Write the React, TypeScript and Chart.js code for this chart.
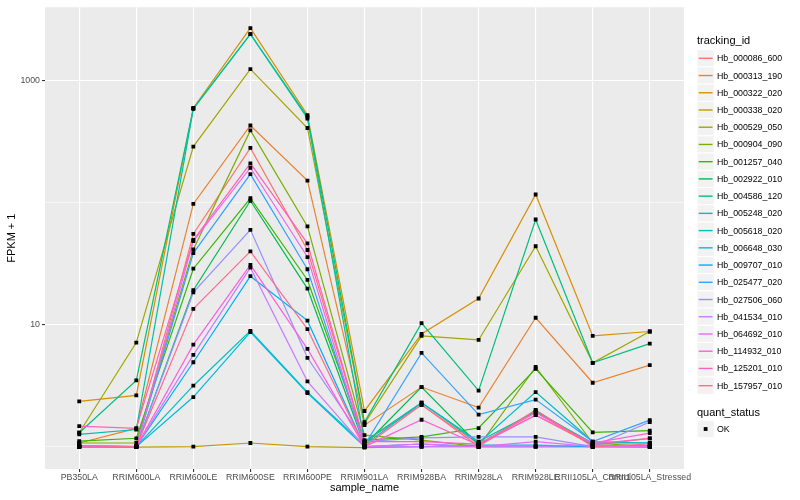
import React, { useEffect, useRef } from "react";
import { Chart, registerables } from "chart.js";

Chart.register(...registerables);

const categories = [
  "PB350LA", "RRIM600LA", "RRIM600LE", "RRIM600SE", "RRIM600PE", "RRIM901LA",
  "RRIM928BA", "RRIM928LA", "RRIM928LE", "RRII105LA_Control", "RRII105LA_Stressed",
];

const trackingIds = [
  "Hb_000086_600", "Hb_000313_190", "Hb_000322_020", "Hb_000338_020", "Hb_000529_050",
  "Hb_000904_090", "Hb_001257_040", "Hb_002922_010", "Hb_004586_120", "Hb_005248_020",
  "Hb_005618_020", "Hb_006648_030", "Hb_009707_010", "Hb_025477_020", "Hb_027506_060",
  "Hb_041534_010", "Hb_064692_010", "Hb_114932_010", "Hb_125201_010", "Hb_157957_010",
];

const seriesColors = [
  "#F8766D", "#EA8331", "#D89000", "#C09B00", "#A3A500", "#7CAE00", "#39B600", "#00BB4E",
  "#00BF7D", "#00C1A3", "#00BFC4", "#00BAE0", "#00B0F6", "#35A2FF", "#9590FF", "#C77CFF",
  "#E76BF3", "#FA62DB", "#FF62BC", "#FF6C91",
];

// FPKM + 1 values per sample (same order as categories)
const hb_000086_600 = [1.02, 1.0, 55.6, 282, 41, 1.1, 2.2, 1.05, 1.81, 1.03, 1.17];
const hb_000313_190 = [1.07, 1.41, 98, 431, 152, 1.5, 3.08, 2.09, 11.4, 3.34, 4.66];
const hb_000322_020 = [2.35, 2.63, 600, 2710, 525, 1.96, 8.4, 16.4, 117, 8.1, 8.8];
const hb_000338_020 = [1.0, 0.99, 1.0, 1.07, 1.0, 0.98, 1.0, 1.0, 1.0, 1.0, 1.0];
const hb_000529_050 = [1.3, 7.13, 289, 1250, 411, 1.55, 8.1, 7.5, 44, 4.87, 8.8];
const hb_000904_090 = [1.07, 1.07, 41.5, 393, 64, 1.24, 1.13, 1.0, 4.5, 1.07, 1.0];
const hb_001257_040 = [1.11, 1.17, 28.8, 109, 23.3, 1.13, 1.2, 1.42, 4.35, 1.31, 1.35];
const hb_002922_010 = [1.0, 1.0, 19.2, 104, 19.8, 1.03, 3.08, 1.03, 1.98, 1.03, 1.0];
const hb_004586_120 = [1.3, 3.49, 595, 2420, 508, 1.59, 10.3, 2.88, 73, 4.87, 7.0];
const hb_005248_020 = [1.26, 1.38, 590, 2420, 492, 1.1, 2.29, 1.1, 1.93, 1.07, 1.07];
const hb_005618_020 = [1.0, 1.0, 3.16, 8.9, 2.8, 1.03, 2.29, 1.07, 2.8, 1.1, 1.07];
const hb_006648_030 = [1.0, 1.0, 2.55, 8.7, 2.75, 1.0, 1.0, 1.03, 1.03, 1.0, 1.02];
const hb_009707_010 = [1.0, 1.0, 4.92, 25, 10.8, 1.0, 1.05, 1.0, 1.0, 1.0, 0.99];
const hb_025477_020 = [1.0, 1.0, 38.7, 172, 28.5, 1.03, 5.87, 1.83, 2.43, 1.1, 1.65];
const hb_027506_060 = [1.0, 1.0, 18.4, 60, 5.35, 1.1, 1.18, 1.2, 1.2, 1.0, 1.59];
const hb_041534_010 = [1.0, 1.0, 5.66, 29.4, 3.43, 1.0, 1.0, 1.0, 1.0, 1.03, 1.0];
const hb_064692_010 = [1.0, 1.0, 48.5, 194, 35.9, 1.0, 1.05, 1.0, 1.1, 1.0, 1.0];
const hb_114932_010 = [1.02, 1.0, 6.87, 31, 6.34, 1.0, 1.66, 1.03, 1.81, 1.07, 1.29];
const hb_125201_010 = [1.47, 1.41, 49.6, 211, 46.5, 1.1, 1.1, 1.05, 1.9, 1.05, 1.17];
const hb_157957_010 = [1.02, 1.0, 13.5, 40, 9.2, 1.0, 2.2, 1.0, 2.0, 1.0, 1.05];

const seriesValues = [
  hb_000086_600, hb_000313_190, hb_000322_020, hb_000338_020, hb_000529_050,
  hb_000904_090, hb_001257_040, hb_002922_010, hb_004586_120, hb_005248_020,
  hb_005618_020, hb_006648_030, hb_009707_010, hb_025477_020, hb_027506_060,
  hb_041534_010, hb_064692_010, hb_114932_010, hb_125201_010, hb_157957_010,
];

const yTickValues = [1, 10, 100, 1000];
const yTickLabels = [10, 1000];
const quantStatus = ["OK"];

const FONT = "'Liberation Sans', Arial, Helvetica, sans-serif";

const panelBg = {
  id: "panelBg",
  beforeDraw(chart: any) {
    const { ctx, chartArea } = chart;
    ctx.save();
    ctx.fillStyle = "#EBEBEB";
    ctx.fillRect(chartArea.left, chartArea.top, chartArea.right - chartArea.left, chartArea.bottom - chartArea.top);
    ctx.restore();
  },
};

export default function App() {
  const canvasRef = useRef<HTMLCanvasElement | null>(null);

  useEffect(() => {
    document.body.style.margin = "0";
    const canvas = canvasRef.current;
    if (!canvas) return;

    const lineSets = seriesValues.map((vals, i) => ({
      label: trackingIds[i],
      data: vals.map((v, j) => ({ x: j, y: v })),
      borderColor: seriesColors[i],
      backgroundColor: seriesColors[i],
      borderWidth: 1.2,
      pointRadius: 0,
      fill: false,
      tension: 0,
      order: 40 - i,
    }));
    const pointSets = seriesValues.map((vals, i) => ({
      label: trackingIds[i] + " " + quantStatus[0],
      data: vals.map((v, j) => ({ x: j, y: v })),
      showLine: false,
      pointStyle: "rect",
      pointRadius: 2.7,
      pointBackgroundColor: "#000000",
      pointBorderColor: "#000000",
      pointBorderWidth: 0,
      borderColor: "#000000",
      order: 0,
    }));

    const chart = new Chart(canvas, {
      type: "line",
      data: { datasets: [...lineSets, ...pointSets] as any },
      plugins: [panelBg],
      options: {
        animation: false,
        responsive: false,
        devicePixelRatio: 1,
        layout: { padding: { top: 5, right: 116, left: 0, bottom: 0 } },
        plugins: { legend: { display: false }, tooltip: { enabled: false } },
        scales: {
          x: {
            type: "linear",
            min: -0.6,
            max: categories.length - 1 + 0.6,
            afterBuildTicks: (scale: any) => {
              scale.ticks = categories.map((_, i) => ({ value: i }));
            },
            afterFit: (scale: any) => {
              scale.height = 31;
            },
            ticks: {
              autoSkip: false,
              maxRotation: 0,
              minRotation: 0,
              padding: 0,
              color: "#4D4D4D",
              font: { family: FONT, size: 8.8 },
              callback: (v: any) => categories[Math.round(Number(v))] ?? "",
            },
            grid: {
              color: "#FFFFFF",
              lineWidth: 1.1,
              tickLength: 3,
              tickColor: "#333333",
              tickWidth: 1.1,
            },
            border: { display: false },
            title: {
              display: true,
              text: "sample_name",
              color: "#000000",
              font: { family: FONT, size: 11 },
              padding: { top: 0, bottom: 5.6 },
            },
          },
          y: {
            type: "logarithmic",
            min: 0.655,
            max: 4020,
            afterBuildTicks: (scale: any) => {
              scale.ticks = yTickValues.map((v) => ({ value: v }));
            },
            afterFit: (scale: any) => {
              scale.width = 45;
            },
            ticks: {
              autoSkip: false,
              padding: 2,
              color: "#4D4D4D",
              font: { family: FONT, size: 8.8 },
              callback: (v: any) => (yTickLabels.includes(Number(v)) ? String(v) : ""),
            },
            grid: {
              color: "#FFFFFF",
              lineWidth: (ctx: any) => (ctx.tick && yTickLabels.includes(ctx.tick.value) ? 1.1 : 0.55),
              tickLength: 3,
              tickWidth: 1.1,
              tickColor: (ctx: any) =>
                ctx.tick && yTickLabels.includes(ctx.tick.value) ? "#333333" : "rgba(0,0,0,0)",
            },
            border: { display: false },
            title: {
              display: true,
              text: "FPKM + 1",
              color: "#000000",
              font: { family: FONT, size: 11 },
              padding: { top: 5, bottom: 0 },
            },
          },
        },
      } as any,
    });
    return () => chart.destroy();
  }, []);

  const keyTop0 = 58.3;
  const keyStep = 17.23;
  const keySize = 17.28;
  const legendLeft = 697;
  const legendTop = keyTop0 - keySize / 2;
  const okY = 429;

  return (
    <div style={{ position: "absolute", left: 0, top: 0, width: 800, height: 500, background: "#FFFFFF", fontFamily: FONT }}>
      <canvas ref={canvasRef} width={800} height={500} style={{ position: "absolute", left: 0, top: 0, width: 800, height: 500 }} />
      <div style={{ position: "absolute", left: legendLeft, top: 33.5, fontSize: 11, lineHeight: "13px", color: "#000" }}>tracking_id</div>
      <svg
        width={keySize + 2}
        height={500}
        style={{ position: "absolute", left: legendLeft, top: 0, overflow: "visible" }}
      >
        {trackingIds.map((id, i) => {
          const cy = keyTop0 + i * keyStep;
          return (
            <g key={id}>
              <rect x={0} y={cy - keySize / 2} width={keySize} height={keySize} fill="#F2F2F2" stroke="#FFFFFF" strokeWidth={1} />
              <line x1={1.7} x2={keySize - 1.7} y1={cy} y2={cy} stroke={seriesColors[i]} strokeWidth={1.4} />
            </g>
          );
        })}
        <rect x={0} y={okY - keySize / 2} width={keySize} height={keySize} fill="#F2F2F2" stroke="#FFFFFF" strokeWidth={1} />
        <rect x={keySize / 2 - 1.9} y={okY - 1.9} width={3.8} height={3.8} fill="#000000" />
      </svg>
      {trackingIds.map((id, i) => {
        const cy = keyTop0 + i * keyStep;
        return (
          <div key={id} style={{ position: "absolute", left: 717, top: cy - 6, fontSize: 8.8, lineHeight: "12px", color: "#000", whiteSpace: "nowrap" }}>{id}</div>
        );
      })}
      <div style={{ position: "absolute", left: legendLeft, top: 405.5, fontSize: 11, lineHeight: "13px", color: "#000" }}>quant_status</div>
      {quantStatus.map((q) => (
        <div key={q} style={{ position: "absolute", left: 717, top: okY - 6, fontSize: 8.8, lineHeight: "12px", color: "#000" }}>{q}</div>
      ))}
    </div>
  );
}
